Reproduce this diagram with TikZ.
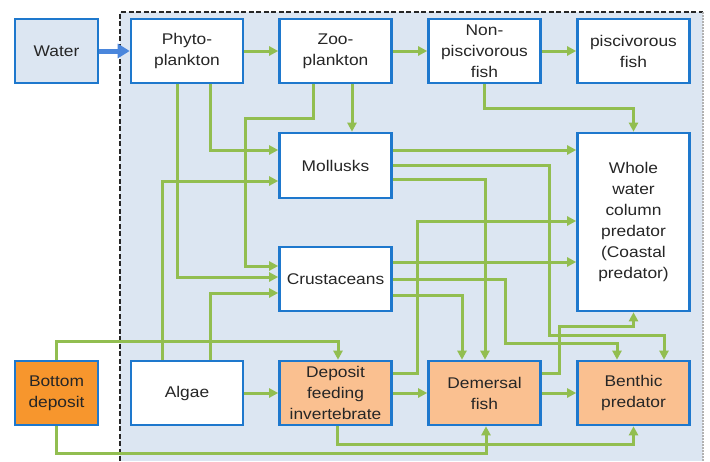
\documentclass[tikz,border=0pt]{standalone}
\usepackage{fontspec}
\setmainfont{Liberation Sans}[FakeStretch=1.12]
\usetikzlibrary{arrows.meta}
\definecolor{bframe}{RGB}{30,120,205}
\definecolor{bgblue}{RGB}{220,230,242}
\definecolor{gline}{RGB}{146,190,80}
\definecolor{dorange}{RGB}{247,150,45}
\definecolor{lorange}{RGB}{250,192,144}
\definecolor{arrowblue}{RGB}{74,134,220}
\begin{document}
\begin{tikzpicture}[x=1pt,y=-1pt,
  box/.style={draw=bframe,line width=2.6pt,fill=white,minimum width=112pt,minimum height=64pt,
    inner sep=1pt,align=center,font=\fontsize{15.5}{21}\selectfont,text=black!85},
  g/.style={draw=gline,line width=3pt,-{Triangle[length=9pt,width=9pt]}},
]
\useasboundingbox (0,0) rectangle (710,461);
\fill[bgblue] (120,12) rectangle (703,461);
\draw[dash pattern=on 5pt off 2.5pt,line width=2pt,black!85] (120,461) -- (120,12) -- (703,12);
\draw[dash pattern=on 2pt off 1pt,line width=2.5pt,gray!60] (703,12) -- (703,461);

% nodes
\node[box,fill=bgblue,minimum width=83pt] (water) at (56.5,51) {Water};
\node[box] (phyto) at (187,51) {Phyto-\\plankton};
\node[box] (zoo) at (335.5,51) {Zoo-\\plankton};
\node[box] (nonp) at (484.5,51) {Non-\\piscivorous\\fish};
\node[box] (pisc) at (633.5,51) {piscivorous\\fish};
\node[box,minimum height=65pt] (moll) at (335.5,165.5) {Mollusks};
\node[box] (crust) at (335.5,279) {Crustaceans};
\node[box,minimum height=178pt] (whole) at (633.5,222) {Whole\\water\\column\\predator\\(Coastal\\predator)};
\node[box,fill=dorange,minimum width=83pt] (bottom) at (56.5,393) {Bottom\\deposit};
\node[box] (algae) at (187,393) {Algae};
\node[box,fill=lorange] (dep) at (335.5,393) {Deposit\\feeding\\invertebrate};
\node[box,fill=lorange] (dem) at (484.5,393) {Demersal\\fish};
\node[box,fill=lorange] (ben) at (633.5,393) {Benthic\\predator};

% water arrow
\draw[arrowblue,line width=5pt,-{Triangle[length=12pt,width=14pt]}] (water.east) -- (phyto.west);

% top row
\draw[g] (phyto.east) -- (zoo.west);
\draw[g] (zoo.east) -- (nonp.west);
\draw[g] (nonp.east) -- (pisc.west);
\draw[g] (nonp.south) -- (nonp.south |- 0,108) -| (whole.north);

% from plankton
\draw[g] (zoo.south -| 352,0) -- (moll.north -| 352,0);
\draw[g] (zoo.south -| 313,0) |- (245,118) |- (crust.west |- 0,266);
\draw[g] (phyto.south -| 210,0) |- (moll.west |- 0,150);
\draw[g] (phyto.south -| 177,0) |- (crust.west |- 0,277);

% from algae
\draw[g] (algae.north -| 162,0) |- (moll.west |- 0,181);
\draw[g] (algae.north -| 210,0) |- (crust.west |- 0,293);

% bottom deposit
\draw[g] (bottom.north) -- (bottom.north |- 0,341) -| (dep.north -| 338,0);
\draw[g] (dep.south -| 337,0) -- (337,444) -| (ben.south);
\draw[g] (bottom.south) -- (bottom.south |- 0,453) -| (dem.south -| 486,0);

% bottom row
\draw[g] (algae.east) -- (dep.west);
\draw[g] (dep.east) -- (dem.west);
\draw[g] (dem.east) -- (ben.west);
\draw[g] (dep.east |- 0,373) -| (417,221) -- (whole.west |- 0,221);
\draw[g] (dem.east |- 0,373) -| (559,326) -| (whole.south);

% mollusks
\draw[g] (moll.east |- 0,150) -- (whole.west |- 0,150);
\draw[g] (moll.east |- 0,165) -| (549,335) -| (ben.north -| 664,0);
\draw[g] (moll.east |- 0,179) -| (dem.north -| 485,0);

% crustaceans
\draw[g] (crust.east |- 0,262) -- (whole.west |- 0,262);
\draw[g] (crust.east |- 0,279) -| (505,343) -| (ben.north -| 617,0);
\draw[g] (crust.east |- 0,295) -| (dem.north -| 462,0);
\end{tikzpicture}
\end{document}
